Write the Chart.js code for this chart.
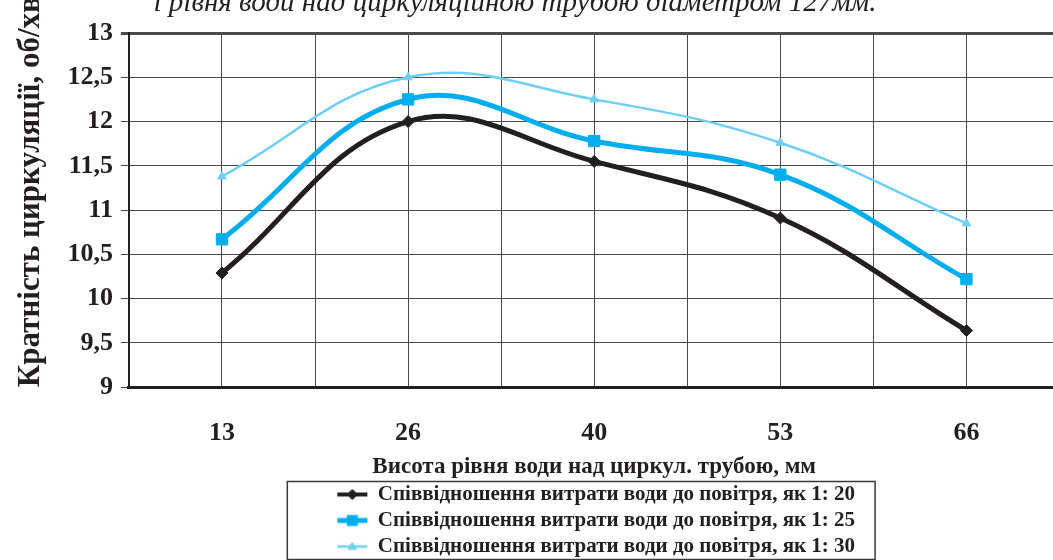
<!DOCTYPE html>
<html>
<head>
<meta charset="utf-8">
<script src="https://cdn.jsdelivr.net/npm/chart.js@4"></script>
<style>
  html, body { margin: 0; padding: 0; background: #ffffff; }
  #wrap { position: relative; width: 1053px; height: 560px; overflow: hidden; background: #fff; }
  #c { position: absolute; left: 0; top: -14px; }
</style>
</head>
<body>
<div id="wrap"><canvas id="c" width="1090" height="581"></canvas></div>
<script>
// ---- data ----
const categories = ['13', '26', '40', '53', '66'];
const ratio20 = [10.29, 12.0, 11.55, 10.91, 9.64];
const ratio25 = [10.67, 12.25, 11.78, 11.40, 10.22];
const ratio30 = [11.38, 12.5, 12.25, 11.76, 10.85];
const seriesNames = [
  'Співвідношення витрати води до повітря, як 1: 20',
  'Співвідношення витрати води до повітря, як 1: 25',
  'Співвідношення витрати води до повітря, як 1: 30'
];
const titleText = 'і рівня води над циркуляційною трубою діаметром 127мм.';
const xTitle = 'Висота рівня води над циркул. трубою, мм';
const yTitle = 'Кратність циркуляції, об/хв.';
const yMin = 9, yMax = 13, yStep = 0.5;

const FONT = "'Liberation Serif', 'Times New Roman', serif";
const C20 = '#231f20', C25 = '#00aeef', C30 = '#6dcff6';

function toPoints(arr) { return arr.map((v, i) => ({ x: i, y: v })); }

function legendIcon(color, lw, shape) {
  const cv = document.createElement('canvas');
  cv.width = 40; cv.height = 16;
  const g = cv.getContext('2d');
  g.strokeStyle = color; g.fillStyle = color; g.lineWidth = lw;
  g.beginPath(); g.moveTo(7, 8); g.lineTo(37, 8); g.stroke();
  const m = 22;
  g.beginPath();
  if (shape === 'diamond') { g.moveTo(m, 2.5); g.lineTo(m + 6, 8); g.lineTo(m, 13.5); g.lineTo(m - 6, 8); }
  else if (shape === 'square') { g.rect(m - 5.5, 2.5, 11, 11); }
  else { g.moveTo(m, 3); g.lineTo(m + 5, 11.5); g.lineTo(m - 5, 11.5); }
  g.closePath(); g.fill();
  return cv;
}
const icons = [legendIcon(C20, 4, 'diamond'), legendIcon(C25, 5, 'square'), legendIcon(C30, 2.5, 'triangle')];

const legendBorder = {
  id: 'legendBorder',
  afterDraw(chart) {
    const hb = chart.legend && chart.legend.legendHitBoxes;
    if (!hb || !hb.length) return;
    const left = Math.min(...hb.map(h => h.left)) - 46;
    const right = Math.max(...hb.map(h => h.left + h.width)) + 20;
    const top = hb[0].top - 2.5;
    const last = hb[hb.length - 1];
    const bottom = last.top + last.height + 2.5;
    const ctx = chart.ctx;
    ctx.save();
    ctx.strokeStyle = '#3a3a3a';
    ctx.lineWidth = 1.5;
    ctx.strokeRect(left, top, right - left, bottom - top);
    ctx.restore();
  }
};

new Chart(document.getElementById('c'), {
  type: 'line',
  data: {
    datasets: [
      { label: seriesNames[0], data: toPoints(ratio20), borderColor: C20, backgroundColor: C20,
        borderWidth: 5, pointStyle: 'rectRot', pointRadius: 6, pointBorderWidth: 1, tension: 0.4 },
      { label: seriesNames[1], data: toPoints(ratio25), borderColor: C25, backgroundColor: C25,
        borderWidth: 5, pointStyle: 'rect', pointRadius: 8, pointBorderWidth: 1, tension: 0.4 },
      { label: seriesNames[2], data: toPoints(ratio30), borderColor: C30, backgroundColor: C30,
        borderWidth: 2.5, pointStyle: 'triangle', pointRadius: 5, pointBorderWidth: 1, tension: 0.4 }
    ]
  },
  options: {
    responsive: false,
    animation: false,
    devicePixelRatio: 1,
    layout: { padding: { left: 10, right: 12, top: 0, bottom: 0 } },
    plugins: {
      tooltip: { enabled: false },
      title: {
        display: true,
        text: titleText + '        ',
        color: '#231f20',
        font: { family: FONT, size: 29, style: 'italic', weight: 'normal' },
        padding: { top: 0, bottom: 12.2 }
      },
      legend: {
        position: 'bottom',
        fullSize: false,
        labels: {
          usePointStyle: true,
          pointStyleWidth: 34,
          padding: 5,
          color: '#231f20',
          font: { family: FONT, size: 21, weight: 'bold' },
          generateLabels(chart) {
            const items = Chart.defaults.plugins.legend.labels.generateLabels(chart);
            items.forEach((it, i) => { it.pointStyle = icons[i]; });
            return items;
          }
        }
      }
    },
    scales: {
      x: {
        type: 'linear',
        min: -0.5,
        max: categories.length - 0.5,
        grid: { color: '#4a4a4a', lineWidth: 1, drawTicks: false },
        border: { display: true, color: '#231f20', width: 3 },
        ticks: {
          stepSize: 0.5,
          autoSkip: false,
          padding: 30.5,
          color: '#231f20',
          font: { family: FONT, size: 26, weight: 'bold' },
          callback(v) {
            const r = Math.round(v * 2) / 2;
            return Number.isInteger(r) && r >= 0 && r < categories.length ? categories[r] : '';
          }
        },
        title: {
          display: true, text: xTitle, color: '#231f20',
          font: { family: FONT, size: 23, weight: 'bold' },
          padding: { top: -26, bottom: -2 }
        }
      },
      y: {
        min: yMin, max: yMax,
        grid: {
          color: '#4a4a4a',
          lineWidth: (c) => (c.tick && c.tick.value === yMax ? 3 : 1),
          tickLength: 8
        },
        border: { display: true, color: '#231f20', width: 2 },
        ticks: {
          stepSize: yStep,
          padding: 8,
          color: '#231f20',
          font: { family: FONT, size: 26, weight: 'bold' },
          callback(v) { return String(v).replace('.', ','); }
        },
        title: {
          display: true, text: yTitle, align: 'start', color: '#231f20',
          font: { family: FONT, size: 31, weight: 'bold' },
          padding: { top: 2, bottom: 10.2 }
        }
      }
    }
  },
  plugins: [legendBorder]
});
</script>
</body>
</html>
